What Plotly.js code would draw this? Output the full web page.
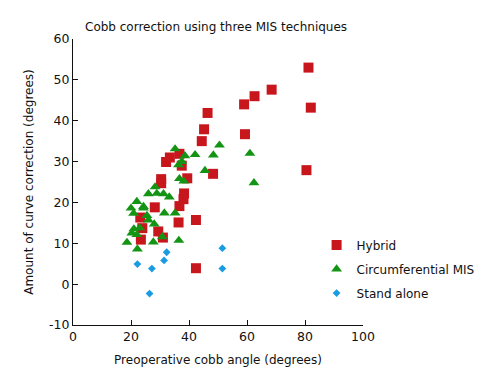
<!DOCTYPE html>
<html>
<head>
<meta charset="utf-8">
<script src="https://cdn.plot.ly/plotly-3.0.1.min.js"></script>
<style>html,body{margin:0;padding:0;background:#fff;}#chart{width:500px;height:378px;}</style>
</head>
<body>
<div id="chart"></div>
<script>
// Hybrid
const hybridX = [81.2, 82.0, 68.5, 62.6, 59.0, 59.3, 80.5, 46.4, 45.2, 44.4, 48.3, 36.7, 33.4, 32.1, 37.5, 30.4, 30.4, 39.4, 38.3, 38.1, 36.7, 28.2, 36.4, 42.4, 23.2, 23.9, 29.4, 31.0, 23.4, 42.4];
const hybridY = [53.0, 43.2, 47.6, 46.0, 44.0, 36.7, 27.9, 41.9, 37.9, 35.0, 27.0, 31.9, 31.0, 29.9, 29.0, 25.7, 24.7, 25.9, 22.2, 20.8, 19.1, 18.8, 15.1, 15.7, 16.3, 13.7, 12.9, 11.4, 10.9, 3.9];
// Circumferential MIS
const circX = [35.2, 38.6, 37.5, 42.1, 50.5, 48.4, 61.0, 36.4, 45.5, 62.4, 36.7, 38.2, 28.3, 26.0, 28.9, 31.2, 33.2, 22.0, 20.0, 24.3, 20.9, 25.5, 31.5, 35.2, 26.0, 28.0, 20.3, 22.0, 21.0, 18.6, 22.2, 27.7, 30.8, 36.5, 23.0, 24.3];
const circY = [33.1, 31.4, 30.0, 31.7, 34.0, 31.6, 32.0, 29.2, 27.8, 24.8, 25.8, 25.2, 23.8, 22.1, 22.2, 22.1, 21.3, 20.2, 18.6, 18.6, 17.3, 16.8, 17.4, 17.4, 15.7, 14.7, 12.5, 12.1, 13.5, 10.2, 8.6, 10.3, 11.6, 10.7, 13.8, 19.0];
// Stand alone
const standX = [22.2, 27.2, 26.4, 32.3, 31.4, 51.5, 51.5];
const standY = [4.9, 3.8, -2.3, 7.8, 5.8, 8.8, 3.8];

const xTicks = [0, 20, 40, 60, 80, 100];
const yTicks = [-10, 0, 10, 20, 30, 40, 50, 60];

const FONT = 'DejaVu Sans, Verdana, sans-serif';

const traces = [
  {x: hybridX, y: hybridY, name: 'Hybrid', type: 'scatter', mode: 'markers', legendgroup: 'a',
   marker: {symbol: 'square', size: 10, color: '#c8161d', line: {width: 0}}},
  {x: circX, y: circY, name: 'Circumferential MIS', type: 'scatter', mode: 'markers', legendgroup: 'b',
   marker: {symbol: 'triangle-up', size: 9.5, color: '#149414', line: {width: 0}}},
  {x: standX, y: standY, name: 'Stand alone', type: 'scatter', mode: 'markers', legendgroup: 'c',
   marker: {symbol: 'diamond', size: 6, color: '#1b9ce2', line: {width: 0}}}
];

const layout = {
  width: 500, height: 378,
  margin: {l: 73, r: 137, t: 38.5, b: 52.5},
  paper_bgcolor: '#fff', plot_bgcolor: '#fff',
  font: {family: FONT, size: 12, color: '#111'},
  title: {text: 'Cobb correction using three MIS techniques', x: 85/500, xanchor: 'left', y: 1 - 27/378, yanchor: 'middle',
          font: {family: FONT, size: 12, color: '#111'}},
  showlegend: true,
  legend: {x: 0.84, xanchor: 'left', y: 0.33, yanchor: 'top', traceorder: 'grouped', tracegroupgap: 5,
           font: {family: FONT, size: 12, color: '#111'}, bgcolor: 'rgba(0,0,0,0)'},
  xaxis: {range: [0, 100], tickvals: xTicks, ticktext: xTicks.map(String), showgrid: false, zeroline: false,
          showline: true, linecolor: '#111', linewidth: 1, ticks: 'inside', ticklen: 5, tickcolor: '#111',
          tickfont: {family: FONT, size: 12.5, color: '#111'},
          title: {text: 'Preoperative cobb angle (degrees)', standoff: 12, font: {family: FONT, size: 12, color: '#111'}}},
  yaxis: {range: [-10, 60], tickvals: yTicks, ticktext: yTicks.map(String), showgrid: false, zeroline: false,
          showline: true, linecolor: '#111', linewidth: 1, ticks: 'inside', ticklen: 5, tickcolor: '#111',
          tickfont: {family: FONT, size: 12.5, color: '#111'},
          title: {text: 'Amount of curve correction (degrees)', standoff: 12, font: {family: FONT, size: 12, color: '#111'}}}
};

Plotly.newPlot('chart', traces, layout, {displayModeBar: false, staticPlot: true});
</script>
</body>
</html>
